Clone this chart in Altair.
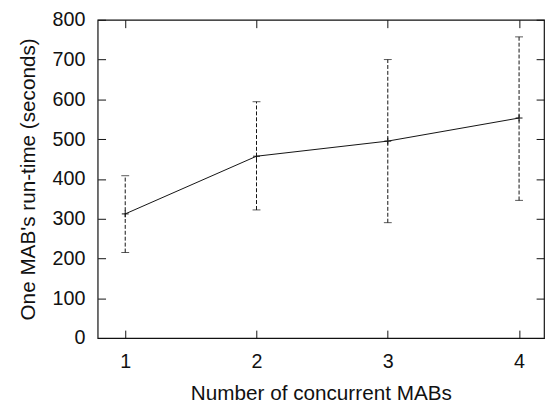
import altair as alt
import pandas as pd

# data
mabs = [1, 2, 3, 4]
runtime_mean = [312, 457, 495, 553]
runtime_low = [215, 322, 290, 346]
runtime_high = [408, 594, 700, 757]

x_ticks = [1, 2, 3, 4]
y_ticks = [0, 100, 200, 300, 400, 500, 600, 700, 800]

df = pd.DataFrame({"n": mabs, "mean": runtime_mean, "lo": runtime_low, "hi": runtime_high})

FONT = "Liberation Sans"
INK = "#111111"

xscale = alt.Scale(domain=[0.79, 4.19], nice=False, zero=False)
yscale = alt.Scale(domain=[0, 800], nice=False)

x_bottom = alt.X("n:Q", scale=xscale,
                 axis=alt.Axis(orient="bottom", values=x_ticks, format="d", offset=-8, tickSize=8,
                               tickColor=INK, domain=False, grid=False, labelPadding=14,
                               labelFont=FONT, labelFontSize=20, labelColor=INK,
                               title="Number of concurrent MABs", titleFont=FONT, titleFontSize=21,
                               titleFontWeight="normal", titleColor=INK, titlePadding=11))
y_left = alt.Y("mean:Q", scale=yscale,
               axis=alt.Axis(orient="left", values=y_ticks, offset=-8, tickSize=8,
                             tickColor=INK, domain=False, grid=False, labelPadding=13,
                             labelFont=FONT, labelFontSize=20, labelColor=INK,
                             title="One MAB's run-time (seconds)", titleFont=FONT, titleFontSize=21,
                             titleFontWeight="normal", titleColor=INK, titlePadding=14))

line = alt.Chart(df).mark_line(color=INK, strokeWidth=1).encode(x=x_bottom, y=y_left)

x_top = alt.X("n:Q", scale=xscale,
              axis=alt.Axis(orient="top", values=x_ticks, offset=-8, tickSize=8, tickColor=INK,
                            domain=False, grid=False, labels=False, title=None))
y_right = alt.Y("lo:Q", scale=yscale,
                axis=alt.Axis(orient="right", values=y_ticks, offset=-8, tickSize=8, tickColor=INK,
                              domain=False, grid=False, labels=False, title=None))

err = alt.Chart(df).mark_rule(color=INK, strokeWidth=1, strokeDash=[4, 2]).encode(
    x=x_top, y=y_right, y2="hi:Q")

xn = alt.X("n:Q", scale=xscale, axis=None)
cap_lo = alt.Chart(df).mark_tick(color=INK, orient="horizontal", size=8, thickness=1).encode(
    x=xn, y=alt.Y("lo:Q", scale=yscale, axis=None))
cap_hi = alt.Chart(df).mark_tick(color=INK, orient="horizontal", size=8, thickness=1).encode(
    x=xn, y=alt.Y("hi:Q", scale=yscale, axis=None))
plus = alt.Chart(df).mark_point(shape="M-1,0L1,0M0,-1L0,1", size=49, color=INK,
                                 strokeWidth=1, filled=False, opacity=1).encode(
    x=xn, y=alt.Y("mean:Q", scale=yscale, axis=None))

chart = alt.layer(line, err, cap_lo, cap_hi, plus).resolve_axis(
    x="independent", y="independent"
).properties(
    width=453, height=323,
    autosize=alt.AutoSizeParams(type="none"),
    padding={"left": 91, "top": 9, "right": 1, "bottom": 63},
    background="white",
).configure_view(stroke=INK, strokeWidth=1.2)

chart.save("out.html", embed_options={"renderer": "svg", "actions": False})
